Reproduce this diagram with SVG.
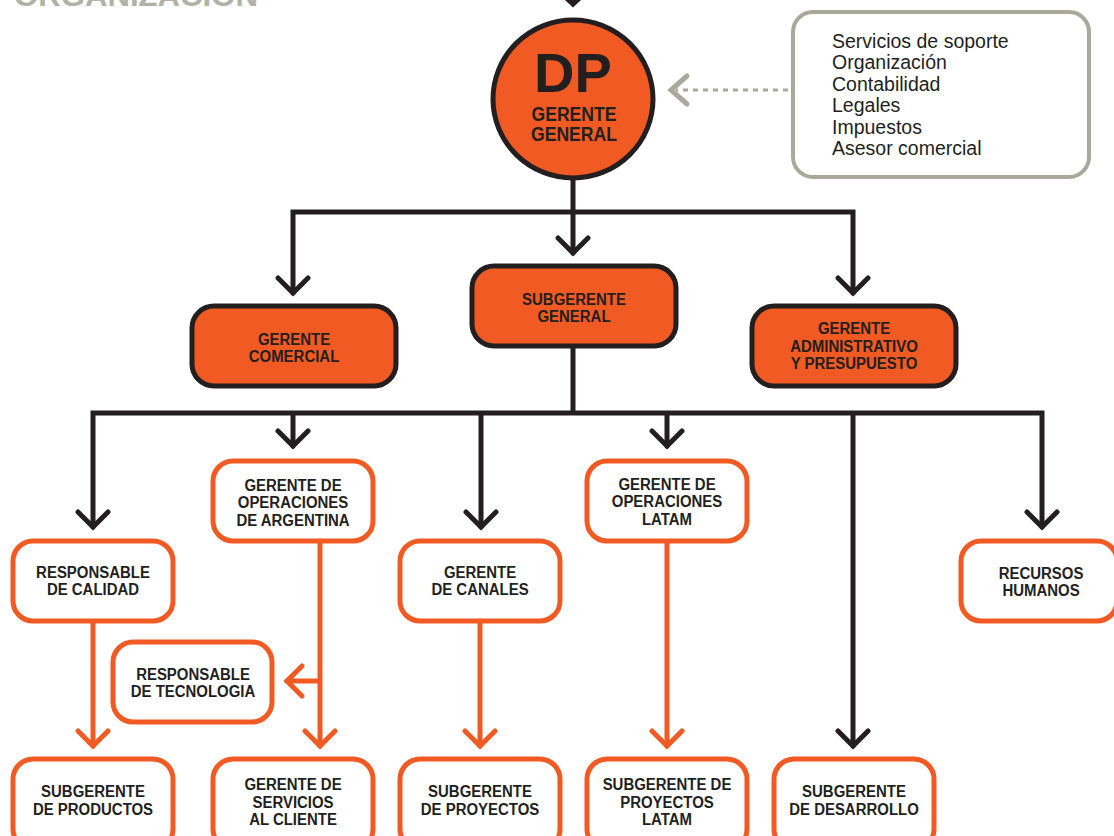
<svg xmlns="http://www.w3.org/2000/svg" width="1114" height="836" viewBox="0 0 1114 836">
  <style>
    .lbl { font-family: "Liberation Sans", Arial, sans-serif; font-weight: bold; font-size: 17px; fill: #231f20; text-anchor: middle;
           transform-box: fill-box; transform-origin: center; transform: scaleX(0.88); }
    .big { font-size: 20px; }
    .main { fill: #f15a22; stroke: #231f20; stroke-width: 5; }
    .sub { fill: #ffffff; stroke: #f15a22; stroke-width: 5; }
    .blk { fill: none; stroke: #231f20; stroke-width: 5; stroke-linecap: round; stroke-linejoin: miter; }
    .org { fill: none; stroke: #f15a22; stroke-width: 5; stroke-linecap: round; stroke-linejoin: miter; }
    .note { font-family: "Liberation Sans", Arial, sans-serif; font-size: 19.5px; fill: #231f20; }
  </style>

  <rect width="1114" height="836" fill="#ffffff"/>

  <!-- page title, partly above the top edge -->
  <text x="14" y="6" font-family="Liberation Sans, Arial, sans-serif" font-weight="bold" font-size="30" fill="#b1b1a5" textLength="244" lengthAdjust="spacingAndGlyphs">ORGANIZACIÓN</text>

  <!-- connectors -->
  <g id="connectors">
    <!-- incoming arrow to the top node -->
    <path class="blk" d="M573 -10 V4 M561 -7 L573 4 L585 -7"/>
    <!-- support services to general manager (dotted) -->
    <line x1="788" y1="90" x2="676" y2="90" stroke="#a9a99b" stroke-width="3" stroke-dasharray="5 5"/>
    <path d="M687 76 L671 90 L687 104" fill="none" stroke="#a9a99b" stroke-width="5" stroke-linecap="round"/>
    <!-- level 1 -->
    <path class="blk" d="M573 178 V253 M293 293 V212 H853 V293"/>
    <path class="blk" d="M278 278 L293 293 L308 278 M558 238 L573 253 L588 238 M838 278 L853 293 L868 278"/>
    <!-- level 2 -->
    <path class="blk" d="M573 347 V413 M93 527 V413 H1042 V527 M293 413 V446 M481 413 V527 M667 413 V446 M853 413 V746"/>
    <path class="blk" d="M78 512 L93 527 L108 512 M278 431 L293 446 L308 431 M466 512 L481 527 L496 512 M652 431 L667 446 L682 431 M838 731 L853 746 L868 731 M1027 512 L1042 527 L1057 512"/>
    <!-- orange reporting lines -->
    <path class="org" d="M93 622 V746 M320 541 V746 M320 681 H287 M480 622 V746 M667 541 V746"/>
    <path class="org" d="M78 731 L93 746 L108 731 M305 731 L320 746 L335 731 M302 666 L287 681 L302 696 M465 731 L480 746 L495 731 M652 731 L667 746 L682 731"/>
  </g>

  <!-- general manager -->
  <g id="gerente-general">
    <ellipse class="main" cx="573" cy="99" rx="80" ry="79"/>
    <text x="573" y="92" font-family="Liberation Sans, Arial, sans-serif" font-weight="bold" font-size="56" fill="#231f20" text-anchor="middle">DP</text>
    <text class="lbl big" x="574" y="121">GERENTE</text>
    <text class="lbl big" x="574" y="141">GENERAL</text>
  </g>

  <!-- support services note -->
  <g id="servicios">
    <rect x="793" y="12" width="296" height="165" rx="20" fill="#ffffff" stroke="#a9a99b" stroke-width="4"/>
    <text class="note" x="832" y="48">Servicios de soporte</text>
    <text class="note" x="832" y="69">Organización</text>
    <text class="note" x="832" y="91">Contabilidad</text>
    <text class="note" x="832" y="112">Legales</text>
    <text class="note" x="832" y="134">Impuestos</text>
    <text class="note" x="832" y="155">Asesor comercial</text>
  </g>

  <!-- level 1 -->
  <g id="gerente-comercial">
    <rect class="main" x="192" y="306" width="204" height="80" rx="22"/>
    <text class="lbl" x="294" y="345">GERENTE</text>
    <text class="lbl" x="294" y="362">COMERCIAL</text>
  </g>
  <g id="subgerente-general">
    <rect class="main" x="472" y="266" width="204" height="80" rx="22"/>
    <text class="lbl" x="574" y="305">SUBGERENTE</text>
    <text class="lbl" x="574" y="322">GENERAL</text>
  </g>
  <g id="gerente-administrativo">
    <rect class="main" x="752" y="306" width="204" height="80" rx="22"/>
    <text class="lbl" x="854" y="334">GERENTE</text>
    <text class="lbl" x="854" y="352">ADMINISTRATIVO</text>
    <text class="lbl" x="854" y="369">Y PRESUPUESTO</text>
  </g>

  <!-- level 2 -->
  <g id="responsable-calidad">
    <rect class="sub" x="13" y="541" width="160" height="80" rx="20"/>
    <text class="lbl" x="93" y="578">RESPONSABLE</text>
    <text class="lbl" x="93" y="595">DE CALIDAD</text>
  </g>
  <g id="gerente-operaciones-argentina">
    <rect class="sub" x="213" y="461" width="160" height="80" rx="20"/>
    <text class="lbl" x="293" y="491">GERENTE DE</text>
    <text class="lbl" x="293" y="508">OPERACIONES</text>
    <text class="lbl" x="293" y="526">DE ARGENTINA</text>
  </g>
  <g id="gerente-canales">
    <rect class="sub" x="400" y="541" width="160" height="80" rx="20"/>
    <text class="lbl" x="480" y="578">GERENTE</text>
    <text class="lbl" x="480" y="595">DE CANALES</text>
  </g>
  <g id="gerente-operaciones-latam">
    <rect class="sub" x="587" y="461" width="160" height="80" rx="20"/>
    <text class="lbl" x="667" y="490">GERENTE DE</text>
    <text class="lbl" x="667" y="507">OPERACIONES</text>
    <text class="lbl" x="667" y="525">LATAM</text>
  </g>
  <g id="recursos-humanos">
    <rect class="sub" x="961" y="541" width="156" height="80" rx="20"/>
    <text class="lbl" x="1041" y="579">RECURSOS</text>
    <text class="lbl" x="1041" y="596">HUMANOS</text>
  </g>
  <g id="responsable-tecnologia">
    <rect class="sub" x="113" y="642" width="159" height="80" rx="20"/>
    <text class="lbl" x="193" y="680">RESPONSABLE</text>
    <text class="lbl" x="193" y="697">DE TECNOLOGIA</text>
  </g>

  <!-- bottom row -->
  <g id="subgerente-productos">
    <rect class="sub" x="13" y="759" width="160" height="90" rx="20"/>
    <text class="lbl" x="93" y="797">SUBGERENTE</text>
    <text class="lbl" x="93" y="815">DE PRODUCTOS</text>
  </g>
  <g id="gerente-servicios-cliente">
    <rect class="sub" x="213" y="759" width="160" height="90" rx="20"/>
    <text class="lbl" x="293" y="790">GERENTE DE</text>
    <text class="lbl" x="293" y="808">SERVICIOS</text>
    <text class="lbl" x="293" y="825">AL CLIENTE</text>
  </g>
  <g id="subgerente-proyectos">
    <rect class="sub" x="400" y="759" width="160" height="90" rx="20"/>
    <text class="lbl" x="480" y="797">SUBGERENTE</text>
    <text class="lbl" x="480" y="815">DE PROYECTOS</text>
  </g>
  <g id="subgerente-proyectos-latam">
    <rect class="sub" x="587" y="759" width="160" height="90" rx="20"/>
    <text class="lbl" x="667" y="790">SUBGERENTE DE</text>
    <text class="lbl" x="667" y="808">PROYECTOS</text>
    <text class="lbl" x="667" y="825">LATAM</text>
  </g>
  <g id="subgerente-desarrollo">
    <rect class="sub" x="774" y="759" width="160" height="90" rx="20"/>
    <text class="lbl" x="854" y="797">SUBGERENTE</text>
    <text class="lbl" x="854" y="815">DE DESARROLLO</text>
  </g>
</svg>
